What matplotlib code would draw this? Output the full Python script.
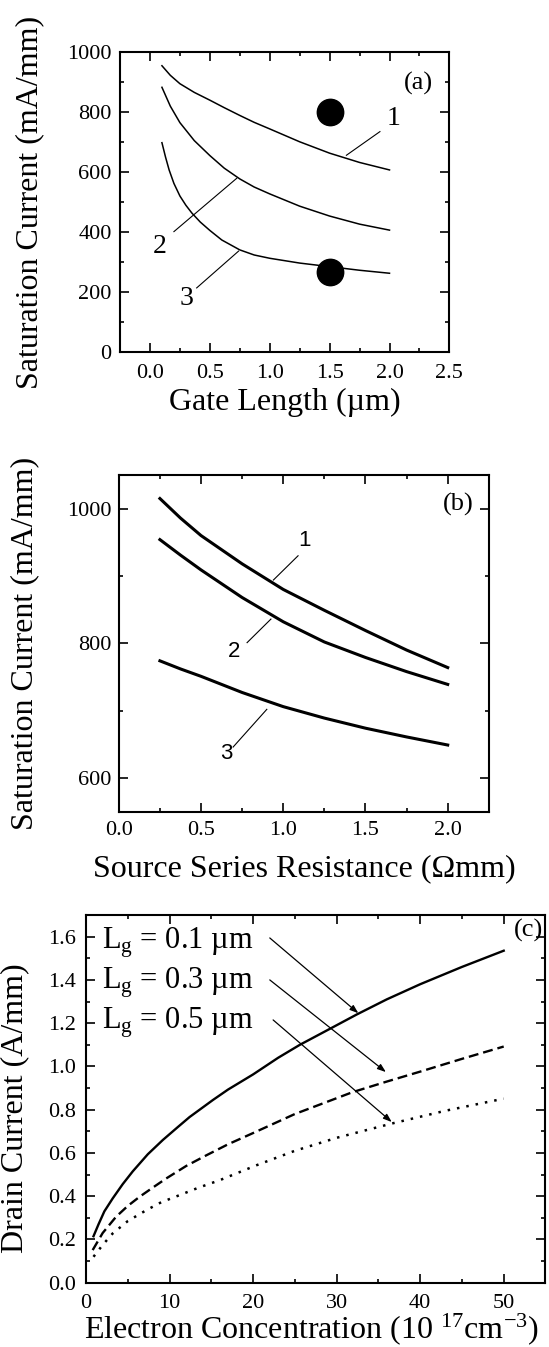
import matplotlib
matplotlib.use('Agg')
import matplotlib.pyplot as plt
from matplotlib.ticker import MultipleLocator

# (a) saturation current vs gate length
gate_len_1 = [0.1, 0.17, 0.25, 0.37, 0.5, 0.62, 0.75, 0.87, 1.0, 1.25, 1.5, 1.75, 2.0]
isat_a1 = [955, 923, 895, 866, 840, 815, 789, 766, 744, 701, 663, 632, 607]
gate_len_2 = [0.1, 0.17, 0.25, 0.37, 0.5, 0.62, 0.75, 0.87, 1.0, 1.25, 1.5, 1.75, 2.0]
isat_a2 = [883, 820, 765, 705, 655, 613, 577, 550, 527, 486, 453, 426, 406]
gate_len_3 = [0.1, 0.13, 0.16, 0.2, 0.25, 0.3, 0.35, 0.42, 0.5, 0.6, 0.75, 0.87, 1.0,
              1.25, 1.5, 1.75, 2.0]
isat_a3 = [698, 650, 607, 562, 520, 489, 463, 433, 405, 373, 340, 323, 312,
           296, 284, 272, 262]
meas_len = [1.5, 1.5]
meas_isat = [800, 265]

# (b) saturation current vs source series resistance
rs = [0.25, 0.375, 0.5, 0.75, 1.0, 1.25, 1.5, 1.75, 2.0]
isat_b1 = [1015, 986, 960, 918, 880, 849, 819, 790, 764]
isat_b2 = [954, 931, 909, 868, 832, 802, 779, 758, 739]
isat_b3 = [774, 762, 751, 727, 706, 689, 674, 661, 649]

# (c) drain current vs electron concentration
conc_01 = [0.9, 1.5, 2.2, 3.2, 4.4, 5.6, 7.4, 9.2, 11, 12.4, 15.2, 17, 20, 23, 25.6,
           29.2, 32.4, 36, 40, 45, 50]
id_01 = [0.215, 0.27, 0.33, 0.39, 0.456, 0.515, 0.594, 0.66, 0.72, 0.766, 0.845,
         0.893, 0.963, 1.04, 1.10, 1.174, 1.24, 1.31, 1.38, 1.46, 1.535]
conc_03 = [0.8, 2, 3.6, 5, 6.4, 8, 9.6, 12, 14.4, 17, 20, 25, 31.9, 36, 40, 45, 50]
id_03 = [0.151, 0.23, 0.305, 0.355, 0.397, 0.44, 0.482, 0.54, 0.589, 0.64, 0.692,
         0.78, 0.881, 0.93, 0.976, 1.035, 1.092]
conc_05 = [0.9, 2, 3.2, 5, 7.2, 9, 11.2, 13.5, 16, 20.4, 25, 30, 36.6, 43, 50]
id_05 = [0.12, 0.175, 0.228, 0.285, 0.335, 0.372, 0.405, 0.44, 0.474, 0.543, 0.61,
         0.67, 0.736, 0.795, 0.851]
lg_labels = [r'L$_\mathrm{g}$ = 0.1 µm', r'L$_\mathrm{g}$ = 0.3 µm', r'L$_\mathrm{g}$ = 0.5 µm']

plt.rcParams['font.family'] = ['Liberation Serif', 'DejaVu Serif']
plt.rcParams['mathtext.fontset'] = 'custom'
plt.rcParams['mathtext.rm'] = 'Liberation Serif'
plt.rcParams['mathtext.it'] = 'Liberation Serif:italic'
plt.rcParams['mathtext.bf'] = 'Liberation Serif:bold'


def style(ax, xpad, ypad):
    ax.tick_params(which='both', direction='in', top=True, right=True, width=1.2)
    ax.tick_params(which='major', length=6.5)
    ax.tick_params(which='minor', length=3.2)
    ax.tick_params(axis='x', labelsize=16, pad=xpad)
    ax.tick_params(axis='y', labelsize=16, pad=ypad)
    for s in ax.spines.values():
        s.set_linewidth(1.5)


fig = plt.figure(figsize=(5.49, 13.47), dpi=100)

# ---- panel (a)
ax = fig.add_axes([0.2186, 0.7389, 0.600, 0.2223])
ax.plot(gate_len_1, isat_a1, color='black', lw=1.1)
ax.plot(gate_len_2, isat_a2, color='black', lw=1.1)
ax.plot(gate_len_3, isat_a3, color='black', lw=1.1)
ax.plot(meas_len, meas_isat, 'o', color='black', ms=19, ls='none')
ax.set_xlim(-0.25, 2.5)
ax.set_ylim(0, 1000)
ax.xaxis.set_major_locator(MultipleLocator(0.5))
ax.xaxis.set_minor_locator(MultipleLocator(0.25))
ax.yaxis.set_major_locator(MultipleLocator(200))
ax.yaxis.set_minor_locator(MultipleLocator(100))
ax.xaxis.set_major_formatter(lambda v, p: f'{v:.1f}')
style(ax, 8.5, 6)
ax.plot([1.92, 1.64], [735, 656], color='black', lw=0.8)
ax.plot([0.2, 0.724], [401, 579], color='black', lw=0.8)
ax.plot([0.39, 0.74], [213, 336], color='black', lw=0.8)
ax.text(2.035, 780, '1', fontsize=20, ha='center', va='center')
ax.text(0.085, 352, '2', fontsize=20, ha='center', va='center')
ax.text(0.305, 178, '3', fontsize=20, ha='center', va='center')
ax.text(2.24, 895, '(a)', fontsize=19, ha='center', va='center')
ax.set_xlabel('Gate Length (µm)', fontsize=23, va='baseline')
ax.xaxis.set_label_coords(0.5, -0.195)
ax.set_ylabel('Saturation Current (mA/mm)', fontsize=23, va='center')
ax.yaxis.set_label_coords(-0.275, 0.5)

# ---- panel (b)
ax = fig.add_axes([0.2164, 0.3974, 0.674, 0.25])
ax.plot(rs, isat_b1, color='black', lw=2.2)
ax.plot(rs, isat_b2, color='black', lw=2.2)
ax.plot(rs, isat_b3, color='black', lw=2.2)
ax.set_xlim(0, 2.25)
ax.set_ylim(550, 1050)
ax.xaxis.set_major_locator(MultipleLocator(0.5))
ax.xaxis.set_minor_locator(MultipleLocator(0.25))
ax.yaxis.set_major_locator(MultipleLocator(200))
ax.yaxis.set_minor_locator(MultipleLocator(100))
ax.xaxis.set_major_formatter(lambda v, p: f'{v:.1f}')
style(ax, 7, 5)
ax.plot([1.09, 0.94], [930, 894], color='black', lw=0.8)
ax.plot([0.78, 0.925], [801, 836], color='black', lw=0.8)
ax.plot([0.695, 0.90], [646, 702], color='black', lw=0.8)
sans = ['Liberation Sans', 'DejaVu Sans']
ax.text(1.13, 952, '1', fontsize=16, family=sans, ha='center', va='center')
ax.text(0.70, 788, '2', fontsize=16, family=sans, ha='center', va='center')
ax.text(0.655, 636, '3', fontsize=16, family=sans, ha='center', va='center')
ax.text(2.065, 1006, '(b)', fontsize=19, ha='center', va='center')
ax.set_xlabel('Source Series Resistance (Ωmm)', fontsize=23, va='baseline')
ax.xaxis.set_label_coords(0.502, -0.191)
ax.set_ylabel('Saturation Current (mA/mm)', fontsize=23, va='center')
ax.yaxis.set_label_coords(-0.253, 0.5)

# ---- panel (c)
ax = fig.add_axes([0.1566, 0.0477, 0.837, 0.273])
ax.plot(conc_01, id_01, color='black', lw=1.7)
ax.plot(conc_03, id_03, color='black', lw=1.7, ls=(0, (4.2, 2.1)))
ax.plot(conc_05, id_05, color='black', lw=1.8, ls=(0, (1, 2.8)))
ax.set_xlim(0, 55)
ax.set_ylim(0, 1.7)
ax.xaxis.set_major_locator(MultipleLocator(10))
ax.xaxis.set_minor_locator(MultipleLocator(5))
ax.yaxis.set_major_locator(MultipleLocator(0.2))
ax.yaxis.set_minor_locator(MultipleLocator(0.1))
ax.yaxis.set_major_formatter(lambda v, p: f'{v:.1f}')
style(ax, 8, 7)
label_y = [1.545, 1.36, 1.175]
arrow_start = [(22.0, 1.594), (22.0, 1.40), (22.4, 1.215)]
arrow_end = [(32.6, 1.246), (35.9, 0.974), (36.6, 0.743)]
for lab, ly, a0, a1 in zip(lg_labels, label_y, arrow_start, arrow_end):
    ax.text(1.9, ly, lab, fontsize=22, ha='left', va='baseline')
    ax.annotate('', xy=a1, xytext=a0,
                arrowprops=dict(arrowstyle='-|>,head_length=0.5,head_width=0.18',
                                color='black', lw=0.9, shrinkA=0, shrinkB=0))
ax.text(54.7, 1.63, '(c)', fontsize=19, ha='right', va='center')
ax.set_xlabel(r'Electron Concentration (10 $^{17}$cm$^{-3}$)', fontsize=23, va='baseline')
ax.xaxis.set_label_coords(0.49, -0.152)
ax.set_ylabel('Drain Current (A/mm)', fontsize=23, va='center')
ax.yaxis.set_label_coords(-0.155, 0.475)

fig.savefig('out.png', dpi=100)
